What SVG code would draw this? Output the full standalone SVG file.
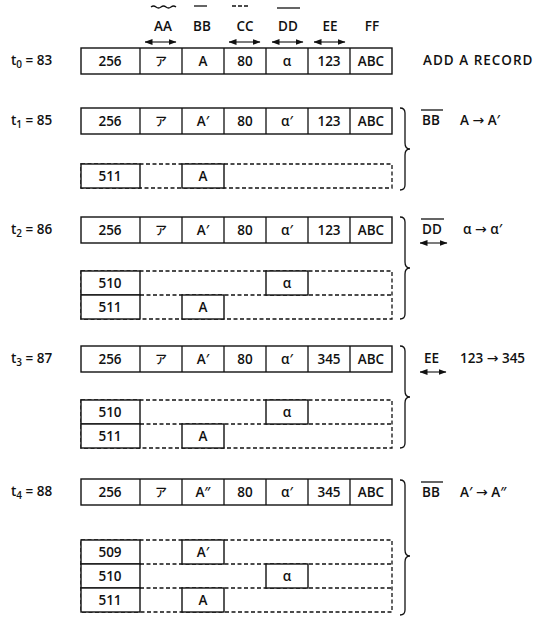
<svg xmlns="http://www.w3.org/2000/svg" width="548" height="622" viewBox="0 0 548 622">
<defs>
<marker id="ah" viewBox="0 0 8 6" refX="7.5" refY="3" markerWidth="8" markerHeight="6" markerUnits="userSpaceOnUse" orient="auto-start-reverse"><path d="M0,0 L8,3 L0,6 Z" fill="#111"/></marker>
<style>
text{font-family:"Open Sans","Liberation Sans","Noto Sans CJK JP",sans-serif;font-size:13.5px;font-weight:600;fill:#111}
.c{text-anchor:middle}
.s{fill:#fff;stroke:#111;stroke-width:1.4}
.d{fill:none;stroke:#111;stroke-width:1.3;stroke-dasharray:4 2.5}
.l{fill:none;stroke:#111;stroke-width:1.3}
.a{fill:none;stroke:#111;stroke-width:1.1;marker-start:url(#ah);marker-end:url(#ah)}
.jp{font-family:"Noto Sans CJK JP",sans-serif;font-size:12px;font-weight:500}
.ar{font-family:"DejaVu Sans",sans-serif;font-weight:normal;font-size:14px}
</style>
</defs>
<rect width="548" height="622" fill="#fff"/>

<g id="header">
<path class="l" d="M151,7 q2.5,-2 5,0 t5,0 t5,0 t5,0 t5,0" stroke-width="1"/>
<line class="l" x1="194" y1="6" x2="207" y2="6"/>
<line class="l" x1="232" y1="6" x2="249" y2="6" stroke-dasharray="4 2"/>
<line class="l" x1="277" y1="8" x2="300" y2="8"/>
<text class="c" x="163" y="31">AA</text>
<text class="c" x="202" y="31">BB</text>
<text class="c" x="245" y="31">CC</text>
<text class="c" x="288" y="31">DD</text>
<text class="c" x="330" y="31">EE</text>
<text class="c" x="372" y="31">FF</text>
</g>

<g id="t0">
<text x="11" y="65">t<tspan font-size="10" dy="3">0</tspan><tspan dy="-3"> = 83</tspan></text>
<rect class="s" x="81" y="48" width="311" height="26"/>
<path class="l" d="M140,48V74M182,48V74M224,48V74M266,48V74M308,48V74M350,48V74"/>
<text class="c" x="110" y="66">256</text><text class="c jp" x="161" y="66">ア</text><text class="c" x="203" y="66">A</text><text class="c" x="245" y="66">80</text><text class="c" x="287" y="66">α</text><text class="c" x="329" y="66">123</text><text class="c" x="371" y="66">ABC</text>
<text x="423" y="65" letter-spacing="1">ADD A RECORD</text>
</g>

<g id="t1">
<text x="11" y="125">t<tspan font-size="10" dy="3">1</tspan><tspan dy="-3"> = 85</tspan></text>
<rect class="s" x="81" y="108" width="311" height="26"/>
<path class="l" d="M140,108V134M182,108V134M224,108V134M266,108V134M308,108V134M350,108V134"/>
<text class="c" x="110" y="126">256</text><text class="c jp" x="161" y="126">ア</text><text class="c" x="203" y="126">A′</text><text class="c" x="245" y="126">80</text><text class="c" x="287" y="126">α′</text><text class="c" x="329" y="126">123</text><text class="c" x="371" y="126">ABC</text>
<line class="l" x1="421" y1="110" x2="443" y2="110"/>
<text x="422" y="125">BB</text>
<text x="460" y="125">A <tspan class="ar">→</tspan> A′</text>
</g>
<g id="t1-hist">
<rect class="d" x="81" y="164" width="311" height="24"/>
<rect class="s" x="81" y="164" width="59" height="24"/><text class="c" x="110" y="181">511</text>
<rect class="s" x="182" y="164" width="42" height="24"/><text class="c" x="203" y="181">A</text>
</g>

<g id="t2">
<text x="11" y="234">t<tspan font-size="10" dy="3">2</tspan><tspan dy="-3"> = 86</tspan></text>
<rect class="s" x="81" y="217" width="311" height="26"/>
<path class="l" d="M140,217V243M182,217V243M224,217V243M266,217V243M308,217V243M350,217V243"/>
<text class="c" x="110" y="235">256</text><text class="c jp" x="161" y="235">ア</text><text class="c" x="203" y="235">A′</text><text class="c" x="245" y="235">80</text><text class="c" x="287" y="235">α′</text><text class="c" x="329" y="235">123</text><text class="c" x="371" y="235">ABC</text>
<line class="l" x1="421" y1="219" x2="444" y2="219"/>
<text x="422" y="234">DD</text>
<line class="a" x1="420" y1="243" x2="447" y2="243"/>
<text x="463" y="234">α <tspan class="ar">→</tspan> α′</text>
</g>
<g id="t2-hist">
<rect class="d" x="81" y="271" width="311" height="48"/>
<line class="d" x1="140" y1="295" x2="392" y2="295"/>
<rect class="s" x="81" y="271" width="59" height="24"/><text class="c" x="110" y="288">510</text>
<rect class="s" x="266" y="271" width="42" height="24"/><text class="c" x="287" y="288">α</text>
<rect class="s" x="81" y="295" width="59" height="24"/><text class="c" x="110" y="312">511</text>
<rect class="s" x="182" y="295" width="42" height="24"/><text class="c" x="203" y="312">A</text>
</g>

<g id="t3">
<text x="11" y="363">t<tspan font-size="10" dy="3">3</tspan><tspan dy="-3"> = 87</tspan></text>
<rect class="s" x="81" y="346" width="311" height="26"/>
<path class="l" d="M140,346V372M182,346V372M224,346V372M266,346V372M308,346V372M350,346V372"/>
<text class="c" x="110" y="364">256</text><text class="c jp" x="161" y="364">ア</text><text class="c" x="203" y="364">A′</text><text class="c" x="245" y="364">80</text><text class="c" x="287" y="364">α′</text><text class="c" x="329" y="364">345</text><text class="c" x="371" y="364">ABC</text>
<text x="424" y="363">EE</text>
<line class="a" x1="420" y1="372" x2="446" y2="372"/>
<text x="460" y="363">123 <tspan class="ar">→</tspan> 345</text>
</g>
<g id="t3-hist">
<rect class="d" x="81" y="400" width="311" height="48"/>
<line class="d" x1="140" y1="424" x2="392" y2="424"/>
<rect class="s" x="81" y="400" width="59" height="24"/><text class="c" x="110" y="417">510</text>
<rect class="s" x="266" y="400" width="42" height="24"/><text class="c" x="287" y="417">α</text>
<rect class="s" x="81" y="424" width="59" height="24"/><text class="c" x="110" y="441">511</text>
<rect class="s" x="182" y="424" width="42" height="24"/><text class="c" x="203" y="441">A</text>
</g>

<g id="t4">
<text x="11" y="496">t<tspan font-size="10" dy="3">4</tspan><tspan dy="-3"> = 88</tspan></text>
<rect class="s" x="81" y="479" width="311" height="26"/>
<path class="l" d="M140,479V505M182,479V505M224,479V505M266,479V505M308,479V505M350,479V505"/>
<text class="c" x="110" y="497">256</text><text class="c jp" x="161" y="497">ア</text><text class="c" x="203" y="497">A″</text><text class="c" x="245" y="497">80</text><text class="c" x="287" y="497">α′</text><text class="c" x="329" y="497">345</text><text class="c" x="371" y="497">ABC</text>
<line class="l" x1="421" y1="482" x2="443" y2="482"/>
<text x="422" y="497">BB</text>
<text x="460" y="497">A′ <tspan class="ar">→</tspan> A″</text>
</g>
<g id="t4-hist">
<rect class="d" x="81" y="540" width="311" height="72"/>
<line class="d" x1="140" y1="564" x2="392" y2="564"/>
<line class="d" x1="140" y1="588" x2="392" y2="588"/>
<rect class="s" x="81" y="540" width="59" height="24"/><text class="c" x="110" y="557">509</text>
<rect class="s" x="182" y="540" width="42" height="24"/><text class="c" x="203" y="557">A′</text>
<rect class="s" x="81" y="564" width="59" height="24"/><text class="c" x="110" y="581">510</text>
<rect class="s" x="266" y="564" width="42" height="24"/><text class="c" x="287" y="581">α</text>
<rect class="s" x="81" y="588" width="59" height="24"/><text class="c" x="110" y="605">511</text>
<rect class="s" x="182" y="588" width="42" height="24"/><text class="c" x="203" y="605">A</text>
</g>

<g id="connectors">
<line class="a" x1="145" y1="42" x2="176" y2="42"/>
<line class="a" x1="229" y1="42" x2="260" y2="42"/>
<line class="a" x1="272" y1="42" x2="303" y2="42"/>
<line class="a" x1="314" y1="42" x2="345" y2="42"/>
<path class="l" d="M400,108 q5,0 5,5 V143 q0,6 5,6 q-5,0 -5,6 V185 q0,5 -5,5"/>
<path class="l" d="M400,217 q5,0 5,5 V262 q0,6 5,6 q-5,0 -5,6 V314 q0,5 -5,5"/>
<path class="l" d="M400,346 q5,0 5,5 V391 q0,6 5,6 q-5,0 -5,6 V443 q0,5 -5,5"/>
<path class="l" d="M400,480 q5,0 5,5 V550 q0,6 5,6 q-5,0 -5,6 V610 q0,5 -5,5"/>
</g>
</svg>
